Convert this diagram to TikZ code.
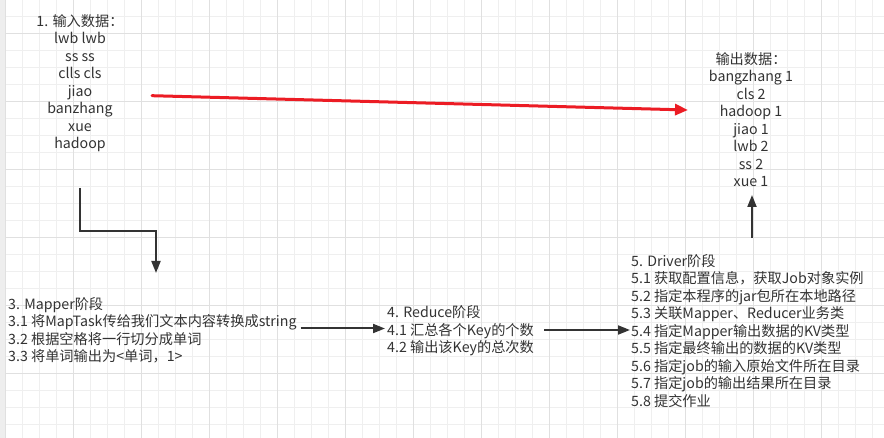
\documentclass[tikz,border=0pt]{standalone}
\usepackage{fontspec}
\setmainfont{Noto Sans CJK SC}
\usetikzlibrary{arrows.meta,calc}
\definecolor{txtc}{HTML}{333333}
\definecolor{gridminor}{HTML}{EFEFEF}
\definecolor{gridmajor}{HTML}{E0E0E0}
\definecolor{redarr}{HTML}{EC1C24}
\definecolor{edgestrip}{HTML}{EEEEEE}
\tikzset{
 lbl/.style={inner sep=0pt, text=txtc, font=\fontsize{14.2}{17.5}\selectfont},
 darr/.style={draw=txtc, line width=2pt, -{Triangle[length=12pt,width=9pt]}},
 rarr/.style={draw=redarr, line width=3pt, line cap=round, -{Triangle[length=13pt,width=11pt]}},
 gminor/.style={draw=gridminor, line width=1pt},
 gmajor/.style={draw=gridmajor, line width=1pt},
}
\begin{document}
\begin{tikzpicture}[x=1pt,y=-1pt]
\useasboundingbox (0,0) rectangle (884,438);
\fill[white] (0,0) rectangle (884,438);
\begin{scope}
\clip (0,0) rectangle (884,438);
\foreach \i in {0,...,52} \draw[gminor] ({5.5+17*\i},0) -- ({5.5+17*\i},438);
\foreach \j in {0,...,26} \draw[gminor] (0,{-0.7+17*\j}) -- (884,{-0.7+17*\j});
\foreach \i in {0,...,13} \draw[gmajor] ({5.5+68*\i},0) -- ({5.5+68*\i},438);
\foreach \j in {0,...,6} \draw[gmajor] (0,{33.3+68*\j}) -- (884,{33.3+68*\j});
\fill[edgestrip] (0,0) rectangle (5,438);
\end{scope}

\node[lbl, align=center] (in) at (80,83) {1. 输入数据：\\lwb lwb\\ss ss\\clls cls\\jiao\\banzhang\\xue\\hadoop};
\node[lbl, align=center] (out) at (751,119.5) {输出数据：\\bangzhang 1\\cls 2\\hadoop 1\\jiao 1\\lwb 2\\ss 2\\xue 1};
\node[lbl, align=left, anchor=west] (mapper) at (8,330.5) {3. Mapper阶段\\3.1 将MapTask传给我们文本内容转换成string\\3.2 根据空格将一行切分成单词\\3.3 将单词输出为<单词，1>};
\node[lbl, align=left, anchor=west] (reduce) at (387,331) {4. Reduce阶段\\4.1 汇总各个Key的个数\\4.2 输出该Key的总次数};
\node[lbl, align=left, anchor=west] (driver) at (631,331) {5. Driver阶段\\5.1 获取配置信息，获取Job对象实例\\5.2 指定本程序的jar包所在本地路径\\5.3 关联Mapper、Reducer业务类\\5.4 指定Mapper输出数据的KV类型\\5.5 指定最终输出的数据的KV类型\\5.6 指定job的输入原始文件所在目录\\5.7 指定job的输出结果所在目录\\5.8 提交作业};

\draw[rarr] ($(in.center)+(72,12.7)$) -- ($(out.center)+(-63,-9.5)$);
\draw[darr] ($(in.center)+(0,105)$) -- ++(0,43) -| ($(mapper.west)+(148,-57.5)$);
\draw[darr] ($(mapper.east)+(4,-2)$) -- ($(reduce.west |- mapper.east)+(-2,-2)$);
\draw[darr] ($(reduce.east)+(10,-1)$) -- ($(driver.west |- reduce.east)+(-1,-1)$);
\draw[darr] ($(out.center |- driver.center)+(1,-93)$) -- ($(out.center)+(1,75.5)$);
\end{tikzpicture}
\end{document}
